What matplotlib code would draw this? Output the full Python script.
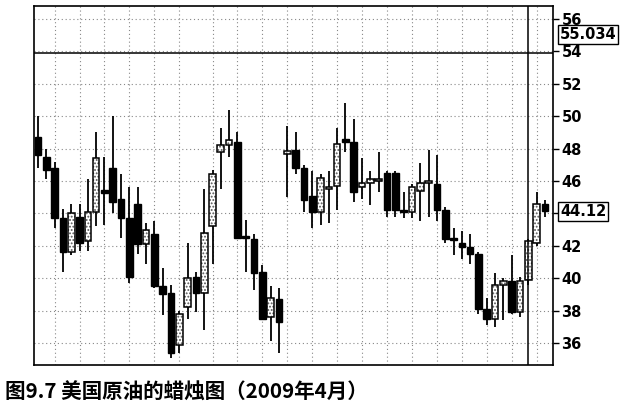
import matplotlib
matplotlib.use("Agg")
import matplotlib.pyplot as plt
import numpy as np

opens = [48.7, 47.5, 46.8, 43.7, 41.6, 43.8, 42.3, 44.1, 45.4, 46.8,
         44.9, 43.7, 44.6, 42.1, 42.7, 39.5, 39.1, 35.9, 38.2, 40.1,
         39.1, 43.2, 47.8, 48.2, 48.4, 42.6, 42.4, 40.4, 37.6, 38.7,
         47.7, 47.9, 46.8, 45.1, 44.1, 45.5, 45.7, 48.6, 48.4, 45.6,
         45.9, 46.0, 46.5, 46.5, 44.2, 44.1, 45.4, 45.9, 45.8, 44.2,
         42.45, 42.2, 41.9, 41.5, 38.1, 37.5, 39.6, 39.8, 37.9, 39.9,
         42.2, 44.6]
highs = [50.0, 48.0, 47.2, 44.3, 44.6, 44.6, 46.1, 49.0, 47.5, 50.0,
         46.4, 45.6, 45.6, 43.4, 43.5, 40.6, 39.6, 38.0, 42.2, 40.4,
         45.5, 46.7, 49.3, 50.4, 49.0, 43.6, 42.7, 40.8, 39.5, 39.4,
         49.4, 49.0, 47.0, 46.6, 46.4, 46.6, 49.3, 50.8, 49.8, 47.4,
         46.6, 47.8, 46.6, 46.6, 45.3, 45.8, 47.1, 47.9, 47.6, 44.4,
         43.1, 42.9, 42.7, 41.6, 38.8, 40.3, 40.0, 41.4, 40.1, 42.4,
         45.3, 44.8]
lows = [46.8, 46.1, 43.1, 40.4, 41.4, 41.7, 41.7, 43.2, 43.3, 44.0,
        42.5, 39.7, 41.5, 40.9, 39.4, 37.7, 35.1, 35.4, 37.5, 37.9,
        36.8, 40.9, 45.5, 47.5, 42.4, 40.4, 39.3, 37.4, 36.1, 35.4,
        45.0, 46.4, 44.1, 43.1, 43.3, 43.4, 44.2, 47.8, 44.7, 44.9,
        44.5, 45.3, 43.8, 43.8, 43.7, 43.7, 43.5, 43.8, 43.5, 42.2,
        41.4, 41.2, 40.9, 37.8, 37.1, 37.0, 37.4, 37.8, 37.6, 39.6,
        42.0, 43.8]
closes = [47.6, 46.7, 43.7, 41.6, 44.0, 42.2, 44.1, 47.4, 45.3, 44.7,
          43.7, 40.1, 42.1, 43.0, 39.5, 39.0, 35.4, 37.8, 40.0, 39.1,
          42.8, 46.4, 48.2, 48.5, 42.5, 42.5, 40.3, 37.5, 38.8, 37.3,
          47.8, 46.8, 44.8, 44.1, 46.2, 45.6, 48.3, 48.4, 45.3, 45.9,
          46.1, 46.1, 44.2, 44.2, 44.1, 45.6, 45.9, 46.0, 44.2, 42.4,
          42.35, 41.9, 41.5, 38.1, 37.5, 39.6, 39.8, 37.9, 39.8, 42.3,
          44.6, 44.12]

grid_bars = [2, 5, 8, 11, 14, 17, 21, 24, 27, 30, 33, 36, 39, 42, 45, 48, 51, 54, 57, 60]
y_ticks = [36, 38, 40, 42, 44, 46, 48, 50, 52, 54, 56]
y_tick_labels = ["36", "38", "40", "42", "", "46", "48", "50", "52", "54", "56"]
hline_level = 53.9
cursor_bar = 59
price_labels = ["55.034", "44.12"]
price_values = [55.034, 44.12]
caption = "图9.7 美国原油的蜡烛图（2009年4月）"

plt.rcParams['hatch.color'] = '#555555'
plt.rcParams['hatch.linewidth'] = 0.9

fig = plt.figure(figsize=(6.21, 4.09), dpi=100)
ax = fig.add_axes([34/621, 1-365/409, (553-34)/621, (365-6)/409])

x = np.arange(len(opens))
o = np.array(opens); c = np.array(closes)
h = np.array(highs); l = np.array(lows)

for yv in y_ticks:
    ax.axhline(yv, color='#888888', linestyle=(0, (1, 2.5)), linewidth=0.8, zorder=0)
for gb in grid_bars:
    ax.axvline(gb, color='#888888', linestyle=(0, (1, 2.5)), linewidth=0.8, zorder=0)

w = 0.8
ax.vlines(x, l, h, color='black', linewidth=1.3, zorder=2)
up = c >= o
bottom = np.minimum(o, c)
height = np.maximum(np.abs(c - o), 0.14)
bottom = np.where(np.abs(c - o) < 0.14, (o + c) / 2 - 0.07, bottom)

ax.bar(x[~up], height[~up], bottom=bottom[~up], width=w, color='black',
       edgecolor='black', linewidth=1.0, zorder=3)
ax.bar(x[up], height[up], bottom=bottom[up], width=w, color='white',
       hatch='.....', edgecolor='#555555', linewidth=0, zorder=3)
ax.bar(x[up], height[up], bottom=bottom[up], width=w, fill=False,
       edgecolor='black', linewidth=1.1, zorder=4)

ax.axhline(hline_level, color='black', linewidth=1.1, zorder=5)
ax.axvline(cursor_bar, color='black', linewidth=1.1, zorder=5)

ax.set_xlim(-0.48, 61.97)
ax.set_ylim(34.64, 56.8)
ax.set_xticks([])
ax.yaxis.tick_right()
ax.set_yticks(y_ticks)
ax.set_yticklabels(y_tick_labels)
ax.tick_params(axis='y', direction='out', length=4, width=1.0, pad=2,
               labelsize=10.5, colors='black')
for lab in ax.get_yticklabels():
    lab.set_family(['Liberation Sans Narrow', 'DejaVu Sans'])
    lab.set_weight('bold')
for sp in ax.spines.values():
    sp.set_linewidth(1.2)
    sp.set_color('black')

for txt, pv in zip(price_labels, price_values):
    ax.text(1.0 + 7/519, pv, txt, transform=ax.get_yaxis_transform(),
            ha='left', va='center', fontsize=10.5, weight='bold',
            family=['Liberation Sans Narrow', 'DejaVu Sans'],
            bbox=dict(boxstyle='square,pad=0.12', facecolor='white',
                      edgecolor='black', linewidth=1.0), zorder=6, clip_on=False)

fig.text(5/621, 1-392/409, caption, ha='left', va='center', fontsize=14.8,
         family=['Noto Sans CJK SC', 'DejaVu Sans'], weight='bold')

fig.savefig('out.png', dpi=100)
